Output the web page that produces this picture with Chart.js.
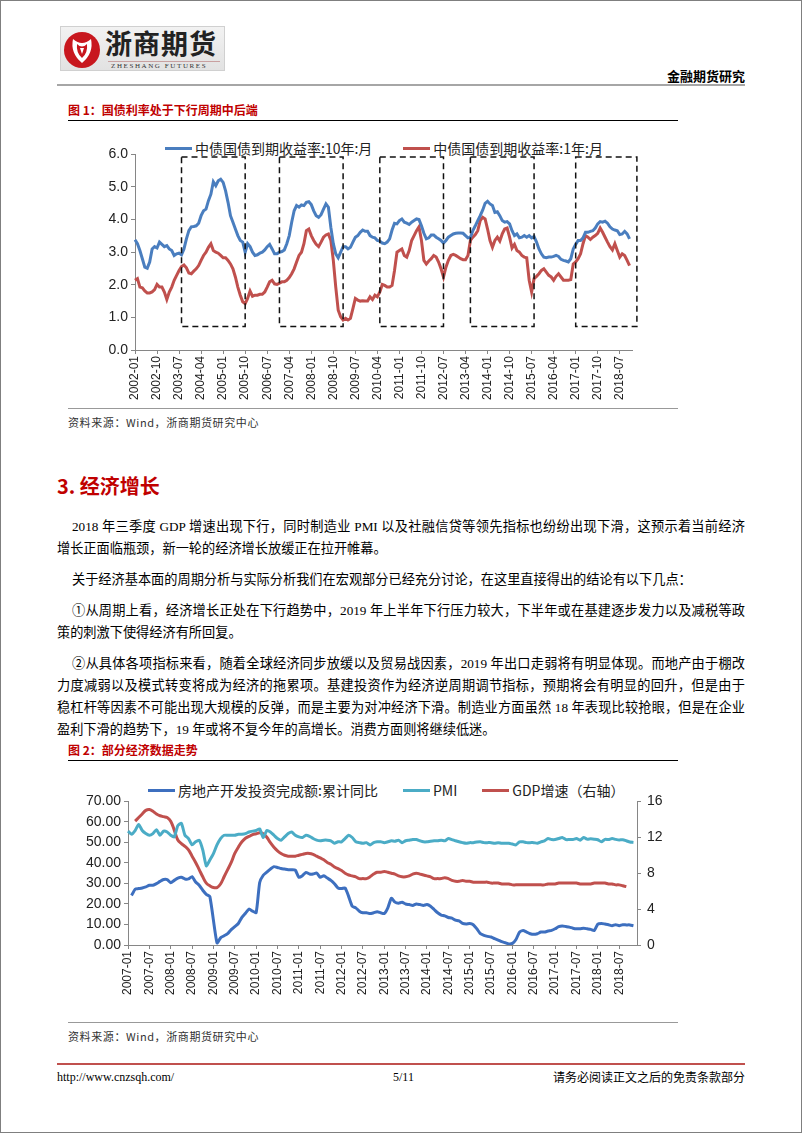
<!DOCTYPE html>
<html>
<head>
<meta charset="utf-8">
<script src="https://cdn.jsdelivr.net/npm/chart.js@4.4.0/dist/chart.umd.min.js"></script>
<style>
  html, body { margin: 0; padding: 0; background: #fff; }
  #page { position: relative; width: 802px; height: 1133px; box-sizing: border-box; border: 1px solid #7f7f7f; overflow: hidden;
          font-family: "Noto Sans CJK SC", sans-serif; color: #000; }
  .abs { position: absolute; }
  .figTitle { font-size: 12px; font-weight: bold; color: #c00000; line-height: 16px; white-space: nowrap; }
  .rule { position: absolute; height: 0; }
  .source { font-size: 11px; color: #333; letter-spacing: 0.6px; line-height: 14px; white-space: nowrap; }
  .para { position: absolute; left: 56px; width: 688px; font-family: "Liberation Serif", "Noto Sans CJK SC", serif; font-size: 13.2px; line-height: 22px; }
  .para div { white-space: nowrap; }
  .para div.j { text-align: justify; text-align-last: justify; white-space: normal; }
  .para div.first { text-indent: 15px; }
  .legend { position: absolute; display: flex; align-items: center; font-size: 14px; white-space: nowrap; color: #222; }
  .legend .item { display: flex; align-items: center; }
  .legend .swatch { display: inline-block; width: 27px; height: 3px; margin-right: 3px; }
  canvas { position: absolute; }
</style>
</head>
<body>
<div id="page">
  <!-- logo -->
  <div class="abs" style="left:59px;top:25px;width:165px;height:45px;background:linear-gradient(#f2f2f2,#e2e2e2);border:1px solid #d0d0d0;box-sizing:border-box;">
    <svg class="abs" style="left:2px;top:4px" width="38" height="38" viewBox="-19 -19 38 38">
      <circle r="18" fill="#c8171e"/>
      <path d="M-9 -11 Q0 -3 9 -11 Q12 3 0 13 Q-12 3 -9 -11 Z" fill="#fff"/>
      <path d="M-5 -6 Q0 -1 5 -6 Q6 3 0 8 Q-6 3 -5 -6 Z" fill="#c8171e"/>
      <path d="M-2 -2 L2 -2 L0 4 Z" fill="#fff"/>
    </svg>
    <div class="abs" style="left:44px;top:-2px;font-size:27px;font-weight:bold;letter-spacing:1px;color:#222;line-height:36px;">浙商期货</div>
    <div class="abs" style="left:47px;top:34px;width:112px;height:1px;background:#c9a0a0;"></div>
    <div class="abs" style="left:50px;top:35px;font-family:'Liberation Serif',serif;font-size:7px;letter-spacing:1.6px;color:#333;line-height:9px;">ZHESHANG FUTURES</div>
  </div>
  <div class="abs" style="right:56px;top:66px;font-size:13px;font-weight:bold;line-height:18px;">金融期货研究</div>
  <div class="rule" style="left:56px;top:83px;width:688px;border-top:2px solid #a6a6a6;"></div>

  <!-- figure 1 -->
  <div class="abs figTitle" style="left:67px;top:101px;">图 1：国债利率处于下行周期中后端</div>
  <div class="rule" style="left:67px;top:119px;width:610px;border-top:1.5px solid #000;"></div>
  <div class="legend" id="legend1" style="left:164px;top:137px;"></div>
  <canvas id="chart1" width="620" height="262" style="left:59px;top:142px;"></canvas>
  <div class="rule" style="left:67px;top:407px;width:610px;border-top:1.5px solid #999;"></div>
  <div class="abs source" style="left:67px;top:414px;">资料来源：Wind，浙商期货研究中心</div>

  <!-- section text -->
  <div class="abs" style="left:56px;top:471px;font-size:20px;font-weight:bold;color:#c00000;line-height:28px;">3. 经济增长</div>
  <div class="para" style="top:515px;">
    <div class="j first">2018 年三季度 GDP 增速出现下行，同时制造业 PMI 以及社融信贷等领先指标也纷纷出现下滑，这预示着当前经济</div>
    <div>增长正面临瓶颈，新一轮的经济增长放缓正在拉开帷幕。</div>
  </div>
  <div class="para" style="top:568px;">
    <div class="first">关于经济基本面的周期分析与实际分析我们在宏观部分已经充分讨论，在这里直接得出的结论有以下几点：</div>
  </div>
  <div class="para" style="top:599px;">
    <div class="j first">①从周期上看，经济增长正处在下行趋势中，2019 年上半年下行压力较大，下半年或在基建逐步发力以及减税等政</div>
    <div>策的刺激下使得经济有所回复。</div>
  </div>
  <div class="para" style="top:652px;">
    <div class="j first">②从具体各项指标来看，随着全球经济同步放缓以及贸易战因素，2019 年出口走弱将有明显体现。而地产由于棚改</div>
    <div class="j">力度减弱以及模式转变将成为经济的拖累项。基建投资作为经济逆周期调节指标，预期将会有明显的回升，但是由于</div>
    <div class="j">稳杠杆等因素不可能出现大规模的反弹，而是主要为对冲经济下滑。制造业方面虽然 18 年表现比较抢眼，但是在企业</div>
    <div>盈利下滑的趋势下，19 年或将不复今年的高增长。消费方面则将继续低迷。</div>
  </div>

  <!-- figure 2 -->
  <div class="abs figTitle" style="left:67px;top:741px;">图 2：部分经济数据走势</div>
  <div class="rule" style="left:67px;top:759px;width:610px;border-top:1.5px solid #000;"></div>
  <div class="legend" id="legend2" style="left:147px;top:779px;"></div>
  <canvas id="chart2" width="630" height="213" style="left:59px;top:786px;"></canvas>
  <div class="rule" style="left:67px;top:1021px;width:610px;border-top:1.5px solid #999;"></div>
  <div class="abs source" style="left:67px;top:1028px;">资料来源：Wind，浙商期货研究中心</div>

  <!-- footer -->
  <div class="rule" style="left:56px;top:1062px;width:688px;border-top:2px solid #c0504d;"></div>
  <div class="abs" style="left:56px;top:1068px;font-family:'Liberation Serif',serif;font-size:12px;line-height:16px;">http://www.cnzsqh.com/</div>
  <div class="abs" style="left:392px;top:1068px;font-family:'Liberation Serif',serif;font-size:12px;line-height:16px;">5/11</div>
  <div class="abs" style="right:56px;top:1068px;font-size:12px;line-height:16px;">请务必阅读正文之后的免责条款部分</div>
</div>

<script>
// month categories
function monthLabels(year, count) {
    const out = [];
    for (let i = 0; i < count; i++) {
        const y = year + Math.floor(i / 12);
        const m = (i % 12) + 1;
        out.push(y + '-' + (m < 10 ? '0' + m : m));
    }
    return out;
}

// Figure 1: 2002-01 .. 2018-12, monthly
const months1 = monthLabels(2002, 204);
const seriesNames1 = ['中债国债到期收益率:10年:月', '中债国债到期收益率:1年:月'];
const yield10y = [
    3.38,3.26,3.05,2.80,2.54,2.51,2.70,3.10,3.17,3.13,3.31,3.24,
    3.17,3.20,3.10,3.05,2.90,2.95,2.97,2.92,3.10,3.41,3.66,3.78,
    3.79,3.81,3.89,4.12,4.27,4.32,4.58,4.78,5.16,5.04,5.19,5.24,
    5.14,4.88,4.53,4.12,3.92,3.71,3.51,3.36,3.31,3.00,3.26,3.17,
    3.00,2.90,2.92,2.97,3.00,3.07,3.17,3.24,3.10,2.95,2.95,3.00,
    3.02,3.07,3.26,3.51,3.92,4.27,4.43,4.38,4.45,4.43,4.53,4.55,
    4.46,4.27,4.12,4.07,4.15,4.32,4.48,4.38,3.76,3.26,2.95,2.83,
    3.00,3.17,3.17,3.10,3.15,3.31,3.46,3.51,3.61,3.68,3.64,3.64,
    3.51,3.46,3.44,3.36,3.34,3.28,3.26,3.31,3.41,3.68,3.89,3.87,
    3.97,4.02,3.92,3.89,3.85,3.92,3.97,4.02,4.00,3.81,3.58,3.41,
    3.44,3.53,3.53,3.46,3.41,3.36,3.28,3.36,3.46,3.51,3.56,3.58,
    3.59,3.59,3.58,3.51,3.44,3.46,3.66,3.81,3.97,4.12,4.29,4.50,
    4.56,4.48,4.43,4.22,4.24,4.12,3.97,3.92,3.94,3.87,3.66,3.51,
    3.56,3.44,3.46,3.51,3.46,3.51,3.44,3.48,3.31,3.10,2.95,2.85,
    2.83,2.85,2.85,2.87,2.90,2.87,2.78,2.75,2.73,2.70,2.80,3.10,
    3.24,3.36,3.36,3.44,3.61,3.61,3.64,3.66,3.74,3.87,3.94,3.92,
    3.95,3.89,3.78,3.71,3.68,3.66,3.54,3.56,3.64,3.56,3.41
];
const yield1y = [
    2.14,2.19,1.93,1.91,1.81,1.75,1.75,1.78,1.85,2.01,1.93,1.93,
    1.78,1.55,1.78,1.93,2.14,2.29,2.44,2.56,2.61,2.52,2.36,2.34,
    2.42,2.49,2.59,2.75,2.90,3.00,3.15,3.26,3.05,3.00,2.97,2.90,
    2.83,2.83,2.75,2.64,2.49,2.24,1.93,1.68,1.48,1.42,1.58,1.81,
    1.65,1.68,1.68,1.71,1.71,1.78,1.93,2.09,2.14,2.03,2.01,2.05,
    2.09,2.09,2.14,2.22,2.34,2.49,2.70,2.90,3.00,3.26,3.66,3.71,
    3.51,3.36,3.24,3.17,3.31,3.46,3.53,3.56,3.36,2.75,1.93,1.22,
    1.02,0.92,0.97,0.92,0.97,1.27,1.58,1.53,1.50,1.51,1.50,1.50,
    1.63,1.55,1.68,1.63,1.78,2.01,1.98,1.93,1.93,1.98,2.44,3.00,
    3.05,3.10,2.90,2.85,3.05,3.36,3.51,3.66,3.78,3.36,2.75,2.64,
    2.73,2.80,2.90,2.85,2.70,2.49,2.24,2.54,2.75,2.90,2.93,2.90,
    2.85,2.80,2.77,2.77,2.90,3.36,3.46,3.54,3.66,3.97,4.07,4.02,
    3.71,3.36,3.15,3.36,3.46,3.34,3.56,3.71,3.74,3.46,3.13,3.24,
    3.05,3.00,2.90,2.85,2.83,2.14,1.78,2.19,2.26,2.34,2.44,2.49,
    2.39,2.29,2.24,2.14,2.26,2.34,2.24,2.14,2.14,2.14,2.16,2.64,
    2.70,2.80,2.95,3.26,3.51,3.46,3.39,3.46,3.51,3.58,3.74,3.61,
    3.46,3.31,3.17,3.07,3.26,3.05,2.85,2.95,2.90,2.75,2.59
];
// dashed cycle boxes: [from month, to month], and their value range
const cycleBoxes = [
    ['2003-08', '2005-10'],
    ['2006-12', '2009-02'],
    ['2010-05', '2012-07'],
    ['2013-06', '2015-08'],
    ['2017-01', '2019-02']
];
const boxRange = [0.72, 5.92];

// Figure 2: 2007-01 .. 2018-12, monthly
const months2 = monthLabels(2007, 144);
const seriesNames2 = ['房地产开发投资完成额:累计同比', 'PMI', 'GDP增速（右轴）'];
const realEstate = [
    null,24.1,27.2,27.5,27.8,28.3,29.1,29.1,29.9,31.0,31.9,31.9,
    30.4,31.5,32.6,33.0,32.2,32.2,33.3,30.7,29.1,26.7,24.7,23.6,
    null,1.0,3.5,4.5,5.5,7.5,9.0,10.5,13.5,15.5,17.5,16.5,
    15.8,30.5,34.0,35.5,37.0,38.2,37.8,37.3,37.0,36.7,36.7,36.5,
    33.0,33.8,35.4,34.6,34.6,35.1,33.0,33.8,32.6,31.5,29.9,27.8,
    27.5,27.8,23.6,18.9,18.1,16.5,15.7,15.7,15.3,15.7,16.2,15.7,
    15.3,18.1,22.8,20.9,20.4,20.8,20.0,19.7,19.3,20.0,19.7,19.3,
    19.7,18.9,17.3,15.7,14.6,14.2,13.4,13.1,12.1,11.8,10.5,10.2,
    10.5,9.9,7.9,5.5,4.7,4.2,3.9,3.1,2.4,1.6,1.1,0.5,
    0.8,2.7,6.3,7.1,6.3,5.5,5.2,5.5,6.3,6.3,6.8,7.1,
    7.9,9.0,9.3,9.0,8.7,8.2,7.9,7.9,8.2,7.9,7.6,7.1,
    10.2,10.5,10.2,9.9,9.4,9.9,9.4,9.9,9.8,9.8,9.4
];
const pmi = [
    55.5,54.0,55.8,58.7,55.8,54.3,53.5,54.3,56.2,53.5,55.5,55.1,
    53.5,52.7,58.2,59.3,53.5,51.9,48.8,50.3,51.1,46.4,38.6,41.4,
    44.5,48.8,51.9,53.5,53.5,53.5,53.5,54.0,54.0,54.3,55.1,55.5,
    55.8,56.6,52.4,55.8,55.1,53.5,51.9,51.1,52.7,54.3,55.1,53.5,
    52.7,52.4,53.5,53.0,51.9,51.1,50.8,51.1,51.1,50.8,49.6,50.3,
    50.3,51.9,53.5,52.4,50.3,49.9,49.6,49.9,48.8,49.9,50.3,50.3,
    49.9,50.3,50.8,50.6,51.1,49.9,50.8,51.1,51.4,51.4,50.8,50.3,
    50.3,50.6,50.8,50.8,51.1,50.8,51.9,51.4,50.8,50.3,49.9,49.6,
    49.9,49.9,50.2,50.3,49.9,49.9,49.9,49.6,49.9,49.6,49.6,49.6,
    49.2,48.8,50.3,50.3,49.9,49.9,49.9,49.6,50.3,50.8,51.9,51.4,
    51.4,51.9,52.4,51.4,51.4,51.4,51.9,51.1,52.4,51.6,51.8,51.6,
    51.3,50.3,51.5,51.4,51.9,51.5,51.2,51.3,50.8,50.2,50.0
];
const gdp = [
    null,null,13.8,14.2,14.6,15.0,15.1,14.9,14.6,14.4,14.3,14.2,
    13.8,12.8,11.7,11.3,11.0,10.6,9.9,9.2,8.4,7.6,6.9,6.6,
    6.4,6.4,6.8,7.6,8.4,9.2,10.2,10.9,11.5,11.9,12.1,12.3,
    12.4,12.5,12.4,12.0,11.4,10.9,10.5,10.2,10.0,9.9,9.9,9.9,
    10.0,10.1,10.2,10.2,10.1,9.9,9.7,9.5,9.2,9.0,8.7,8.5,
    8.3,8.0,7.8,7.7,7.6,7.4,7.4,7.4,7.6,7.9,8.1,8.1,
    8.2,8.1,8.0,7.9,7.7,7.6,7.6,7.7,7.9,8.0,7.9,7.8,
    7.7,7.6,7.4,7.4,7.4,7.5,7.4,7.2,7.1,7.1,7.2,7.1,
    7.1,7.0,7.0,7.0,7.0,7.0,6.9,6.9,6.9,6.8,6.8,6.8,
    6.7,6.7,6.7,6.7,6.7,6.7,6.7,6.7,6.7,6.7,6.8,6.8,
    6.8,6.9,6.9,6.9,6.9,6.9,6.9,6.8,6.8,6.8,6.8,6.9,
    6.9,6.9,6.9,6.8,6.8,6.7,6.7,6.6,6.5
];

const axisGray = '#868686';
const tickFont = { family: 'Liberation Sans', size: 14 };
const xTickFont = { family: 'Liberation Sans', size: 12 };

function monthIndex(labels, label) {
    const [y0, m0] = labels[0].split('-').map(Number);
    const [y, m] = label.split('-').map(Number);
    return (y - y0) * 12 + (m - m0);
}

// draws the dashed rectangles of figure 1
const cyclePlugin = {
    id: 'cycleBoxes',
    afterDatasetsDraw(chart) {
        const { ctx, scales: { x, y } } = chart;
        ctx.save();
        ctx.setLineDash([6, 4]);
        ctx.lineWidth = 1.5;
        ctx.strokeStyle = '#111';
        cycleBoxes.forEach(([from, to]) => {
            const x0 = x.getPixelForValue(monthIndex(months1, from));
            const x1 = x.getPixelForValue(monthIndex(months1, to));
            const y0 = y.getPixelForValue(boxRange[1]);
            const y1 = y.getPixelForValue(boxRange[0]);
            ctx.strokeRect(x0, y0, x1 - x0, y1 - y0);
        });
        ctx.restore();
    }
};

function xAxis(every, height) {
    return {
        type: 'category',
        offset: false,
        grid: { drawOnChartArea: false, color: axisGray, tickLength: 4 },
        border: { color: axisGray },
        ticks: { autoSkip: false, maxRotation: 90, minRotation: 90, padding: 2, color: '#222', font: xTickFont },
        afterBuildTicks: (scale) => { scale.ticks = scale.ticks.filter(t => t.value % every === 0); },
        afterFit: (scale) => { scale.height = height; }
    };
}

function buildLegend(id, chart) {
    const box = document.getElementById(id);
    chart.data.datasets.forEach((ds, i) => {
        const item = document.createElement('div');
        item.className = 'item';
        if (i > 0) item.style.marginLeft = box.dataset.gap + 'px';
        const sw = document.createElement('span');
        sw.className = 'swatch';
        sw.style.background = ds.borderColor;
        item.appendChild(sw);
        item.appendChild(document.createTextNode(ds.label));
        box.appendChild(item);
    });
}

Chart.defaults.animation = false;
Chart.defaults.font.family = 'Liberation Sans';

const chart1 = new Chart(document.getElementById('chart1'), {
    type: 'line',
    data: {
        labels: months1,
        datasets: [
            { label: seriesNames1[0], data: yield10y, borderColor: '#4a7ebf', borderWidth: 3, pointRadius: 0, tension: 0 },
            { label: seriesNames1[1], data: yield1y, borderColor: '#c0504d', borderWidth: 3, pointRadius: 0, tension: 0 }
        ]
    },
    options: {
        responsive: false,
        layout: { padding: { top: 10, right: 48, left: 0, bottom: 0 } },
        plugins: { legend: { display: false }, tooltip: { enabled: false } },
        scales: {
            x: xAxis(9, 55),
            y: {
                min: 0, max: 6,
                grid: { drawOnChartArea: false, color: axisGray, tickLength: 4 },
                border: { color: axisGray },
                ticks: { stepSize: 1, padding: 3, color: '#222', font: tickFont, callback: v => v.toFixed(1) },
                afterFit: (scale) => { scale.width = 75; }
            }
        }
    },
    plugins: [cyclePlugin]
});

const chart2 = new Chart(document.getElementById('chart2'), {
    type: 'line',
    data: {
        labels: months2,
        datasets: [
            { label: seriesNames2[0], data: realEstate, borderColor: '#3d6fbf', borderWidth: 3, pointRadius: 0, tension: 0.2, spanGaps: true, yAxisID: 'y' },
            { label: seriesNames2[1], data: pmi, borderColor: '#4bacc6', borderWidth: 3, pointRadius: 0, tension: 0.2, yAxisID: 'y' },
            { label: seriesNames2[2], data: gdp, borderColor: '#c0504d', borderWidth: 3, pointRadius: 0, tension: 0.4, yAxisID: 'y1' }
        ]
    },
    options: {
        responsive: false,
        layout: { padding: { top: 10, right: 0, left: 0, bottom: 0 } },
        plugins: { legend: { display: false }, tooltip: { enabled: false } },
        scales: {
            x: xAxis(6, 55),
            y: {
                position: 'left', min: 0, max: 70,
                grid: { drawOnChartArea: false, color: axisGray, tickLength: 4 },
                border: { color: axisGray },
                ticks: { stepSize: 10, padding: 3, color: '#222', font: tickFont, callback: v => v.toFixed(2) },
                afterFit: (scale) => { scale.width = 68; }
            },
            y1: {
                position: 'right', min: 0, max: 16,
                grid: { drawOnChartArea: false, color: axisGray, tickLength: 4 },
                border: { color: axisGray },
                ticks: { stepSize: 2, padding: 6, color: '#222', font: tickFont },
                afterFit: (scale) => { scale.width = 53; }
            }
        }
    }
});

document.getElementById('legend1').dataset.gap = 31;
document.getElementById('legend2').dataset.gap = 25;
buildLegend('legend1', chart1);
buildLegend('legend2', chart2);
</script>
</body>
</html>
